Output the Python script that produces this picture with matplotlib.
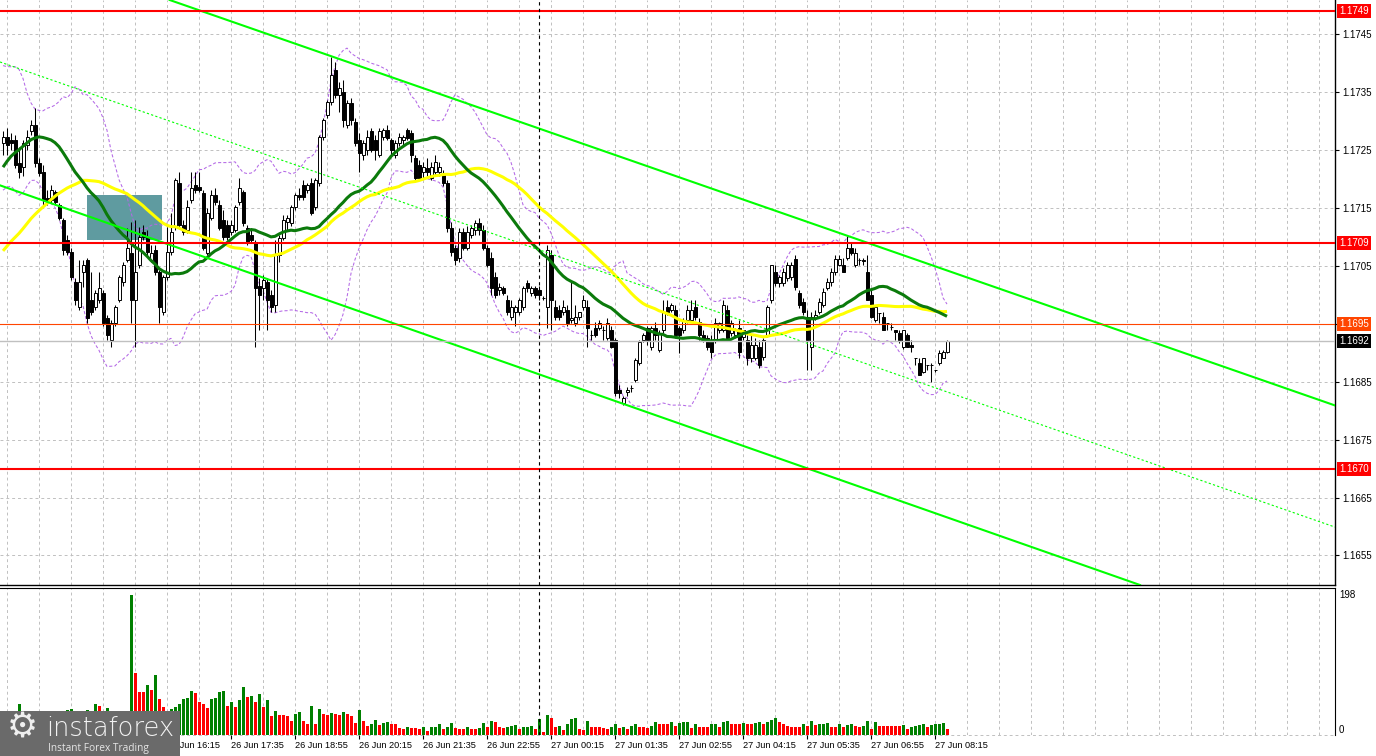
import matplotlib
matplotlib.use("Agg")
import matplotlib.pyplot as plt
import matplotlib.transforms as mtransforms
from matplotlib.patches import Rectangle
import numpy as np
import pandas as pd

W, H = 1376, 756

# EURUSD M5 bars, first visible bar 26 Jun 12:50
FIRST_BAR = "2025-06-26 12:50"

OPEN = [
    1.17262, 1.17273, 1.17267, 1.17267, 1.17228, 1.17221, 1.17258, 1.17282, 1.17293, 1.17228,
    1.17212, 1.17167, 1.17164, 1.17178, 1.17155, 1.17129, 1.17095, 1.17074, 1.17022, 1.16979,
    1.17040, 1.17060, 1.16991, 1.16979, 1.16991, 1.17003, 1.16960, 1.16922, 1.16951, 1.16991,
    1.17022, 1.17060, 1.17072, 1.16991, 1.17051, 1.17109, 1.17100, 1.17060, 1.17077, 1.17040,
    1.16971, 1.17031, 1.17074, 1.17117, 1.17193, 1.17120, 1.17112, 1.17164, 1.17189, 1.17186,
    1.17176, 1.17072, 1.17132, 1.17172, 1.17155, 1.17129, 1.17120, 1.17109, 1.17112, 1.17161,
    1.17178, 1.17115, 1.17103, 1.17092, 1.17016, 1.17011, 1.17022, 1.17000, 1.16982, 1.17068,
    1.17098, 1.17126, 1.17124, 1.17152, 1.17172, 1.17189, 1.17181, 1.17193, 1.17152, 1.17193,
    1.17273, 1.17310, 1.17333, 1.17388, 1.17345, 1.17351, 1.17293, 1.17331, 1.17298, 1.17267,
    1.17241, 1.17250, 1.17282, 1.17267, 1.17241, 1.17273, 1.17285, 1.17267, 1.17241, 1.17262,
    1.17267, 1.17285, 1.17280, 1.17236, 1.17224, 1.17212, 1.17219, 1.17201, 1.17212, 1.17212,
    1.17206, 1.17193, 1.17115, 1.17081, 1.17063, 1.17109, 1.17081, 1.17103, 1.17112, 1.17124,
    1.17112, 1.17081, 1.17063, 1.17031, 1.17008, 1.17011, 1.16991, 1.16962, 1.16971, 1.16971,
    1.16979, 1.17020, 1.17003, 1.17011, 1.17008, 1.16994, 1.16979, 1.17068, 1.16979, 1.16974,
    1.16971, 1.16974, 1.16956, 1.16951, 1.16962, 1.16979, 1.16979, 1.16930, 1.16942, 1.16942,
    1.16939, 1.16925, 1.16939, 1.16922, 1.16835, 1.16813, 1.16832, 1.16839, 1.16853, 1.16882,
    1.16922, 1.16942, 1.16910, 1.16942, 1.16905, 1.16939, 1.16979, 1.16974, 1.16974, 1.16942,
    1.16939, 1.16956, 1.16956, 1.16979, 1.16953, 1.16930, 1.16925, 1.16922, 1.16922, 1.16939,
    1.16939, 1.16974, 1.16934, 1.16930, 1.16942, 1.16927, 1.16922, 1.16891, 1.16891, 1.16910,
    1.16893, 1.16930, 1.16991, 1.17040, 1.17020, 1.17020, 1.17029, 1.17031, 1.17061, 1.17003,
    1.16988, 1.16962, 1.16910, 1.16960, 1.16971, 1.16982, 1.17011, 1.17022, 1.17040, 1.17051,
    1.17051, 1.17063, 1.17081, 1.17051, 1.17060, 1.17060, 1.17040, 1.17000, 1.16956, 1.16968,
    1.16962, 1.16951, 1.16944, 1.16939, 1.16934, 1.16910, 1.16930, 1.16913, 1.16891, 1.16882,
    1.16867, 1.16878, 1.16878, 1.16870, 1.16882, 1.16891, 1.16902,
]
HIGH = [
    1.17282, 1.17288, 1.17280, 1.17276, 1.17255, 1.17267, 1.17285, 1.17302, 1.17322, 1.17236,
    1.17224, 1.17181, 1.17189, 1.17181, 1.17159, 1.17132, 1.17103, 1.17081, 1.17029, 1.17060,
    1.17060, 1.17063, 1.17040, 1.17008, 1.17040, 1.17008, 1.16965, 1.16956, 1.16982, 1.17034,
    1.17057, 1.17115, 1.17126, 1.17129, 1.17117, 1.17120, 1.17112, 1.17086, 1.17086, 1.17043,
    1.17034, 1.17117, 1.17141, 1.17201, 1.17212, 1.17129, 1.17164, 1.17212, 1.17212, 1.17212,
    1.17181, 1.17150, 1.17181, 1.17184, 1.17164, 1.17146, 1.17129, 1.17129, 1.17155, 1.17201,
    1.17181, 1.17120, 1.17115, 1.17095, 1.17029, 1.17034, 1.17029, 1.17008, 1.17095, 1.17103,
    1.17138, 1.17138, 1.17155, 1.17176, 1.17184, 1.17198, 1.17193, 1.17201, 1.17201, 1.17276,
    1.17305, 1.17336, 1.17411, 1.17402, 1.17368, 1.17371, 1.17336, 1.17340, 1.17305, 1.17280,
    1.17267, 1.17285, 1.17288, 1.17276, 1.17288, 1.17288, 1.17293, 1.17271, 1.17267, 1.17280,
    1.17276, 1.17288, 1.17285, 1.17241, 1.17233, 1.17229, 1.17236, 1.17229, 1.17241, 1.17229,
    1.17215, 1.17198, 1.17126, 1.17086, 1.17115, 1.17115, 1.17119, 1.17120, 1.17129, 1.17132,
    1.17120, 1.17086, 1.17074, 1.17040, 1.17020, 1.17016, 1.17000, 1.16991, 1.16982, 1.16994,
    1.17016, 1.17025, 1.17016, 1.17016, 1.17016, 1.16998, 1.17086, 1.17077, 1.16991, 1.16982,
    1.16991, 1.16982, 1.17022, 1.16982, 1.16971, 1.17000, 1.16991, 1.16939, 1.16953, 1.16956,
    1.16947, 1.16960, 1.16947, 1.16925, 1.16844, 1.16826, 1.16840, 1.16844, 1.16891, 1.16922,
    1.16934, 1.16947, 1.16947, 1.16953, 1.16939, 1.16991, 1.16991, 1.16986, 1.16982, 1.16947,
    1.16960, 1.16982, 1.16991, 1.16991, 1.16960, 1.16939, 1.16930, 1.16930, 1.16960, 1.16953,
    1.16991, 1.16982, 1.16956, 1.16942, 1.16956, 1.16939, 1.16930, 1.16930, 1.16925, 1.16922,
    1.16925, 1.16982, 1.17051, 1.17051, 1.17034, 1.17046, 1.17057, 1.17057, 1.17068, 1.17008,
    1.16994, 1.16974, 1.16971, 1.16974, 1.16994, 1.17011, 1.17029, 1.17046, 1.17068, 1.17068,
    1.17063, 1.17101, 1.17091, 1.17081, 1.17063, 1.17063, 1.17068, 1.17008, 1.16982, 1.16968,
    1.16971, 1.16951, 1.16951, 1.16939, 1.16939, 1.16939, 1.16934, 1.16922, 1.16891, 1.16891,
    1.16891, 1.16878, 1.16882, 1.16870, 1.16905, 1.16905, 1.16922,
]
LOW = [
    1.17241, 1.17241, 1.17250, 1.17219, 1.17201, 1.17206, 1.17250, 1.17276, 1.17221, 1.17205,
    1.17155, 1.17155, 1.17159, 1.17155, 1.17129, 1.17068, 1.17068, 1.17025, 1.16982, 1.16974,
    1.17013, 1.16951, 1.16965, 1.16974, 1.16986, 1.16947, 1.16922, 1.16910, 1.16947, 1.16988,
    1.17016, 1.17057, 1.16951, 1.16910, 1.17046, 1.17095, 1.17068, 1.17057, 1.17034, 1.16951,
    1.16965, 1.17025, 1.17068, 1.17112, 1.17115, 1.17103, 1.17107, 1.17159, 1.17176, 1.17178,
    1.17077, 1.17068, 1.17129, 1.17155, 1.17112, 1.17095, 1.17095, 1.17103, 1.17109, 1.17155,
    1.17119, 1.17086, 1.17090, 1.16910, 1.16939, 1.16991, 1.16939, 1.16971, 1.16971, 1.17057,
    1.17095, 1.17112, 1.17119, 1.17146, 1.17164, 1.17164, 1.17176, 1.17138, 1.17146, 1.17188,
    1.17267, 1.17305, 1.17327, 1.17340, 1.17316, 1.17290, 1.17288, 1.17293, 1.17257, 1.17212,
    1.17233, 1.17241, 1.17247, 1.17233, 1.17238, 1.17267, 1.17267, 1.17241, 1.17236, 1.17257,
    1.17258, 1.17267, 1.17229, 1.17198, 1.17198, 1.17201, 1.17205, 1.17198, 1.17206, 1.17205,
    1.17188, 1.17109, 1.17067, 1.17051, 1.17057, 1.17077, 1.17077, 1.17098, 1.17103, 1.17103,
    1.17077, 1.17048, 1.17000, 1.16994, 1.17000, 1.17000, 1.16965, 1.16956, 1.16947, 1.16965,
    1.16974, 1.17005, 1.16998, 1.16994, 1.16991, 1.16991, 1.16942, 1.16939, 1.16956, 1.16956,
    1.16965, 1.16947, 1.16951, 1.16946, 1.16956, 1.16974, 1.16910, 1.16922, 1.16927, 1.16939,
    1.16922, 1.16922, 1.16908, 1.16826, 1.16821, 1.16809, 1.16826, 1.16832, 1.16850, 1.16878,
    1.16919, 1.16913, 1.16905, 1.16922, 1.16902, 1.16934, 1.16965, 1.16971, 1.16925, 1.16900,
    1.16934, 1.16951, 1.16953, 1.16956, 1.16922, 1.16919, 1.16905, 1.16891, 1.16917, 1.16934,
    1.16936, 1.16922, 1.16929, 1.16925, 1.16891, 1.16922, 1.16878, 1.16884, 1.16887, 1.16874,
    1.16887, 1.16927, 1.16986, 1.17016, 1.17013, 1.17016, 1.17024, 1.17025, 1.17008, 1.16977,
    1.16965, 1.16870, 1.16870, 1.16956, 1.16967, 1.16979, 1.17008, 1.17016, 1.17034, 1.17050,
    1.17040, 1.17060, 1.17068, 1.17048, 1.17051, 1.17051, 1.16991, 1.16960, 1.16953, 1.16951,
    1.16939, 1.16939, 1.16939, 1.16922, 1.16917, 1.16906, 1.16910, 1.16902, 1.16878, 1.16861,
    1.16865, 1.16870, 1.16850, 1.16867, 1.16878, 1.16891, 1.16900,
]
CLOSE = [
    1.17273, 1.17258, 1.17262, 1.17224, 1.17212, 1.17262, 1.17273, 1.17293, 1.17228, 1.17210,
    1.17164, 1.17161, 1.17181, 1.17161, 1.17132, 1.17077, 1.17074, 1.17031, 1.16991, 1.17022,
    1.17051, 1.16960, 1.16971, 1.17003, 1.17011, 1.16951, 1.16930, 1.16951, 1.16979, 1.17031,
    1.17051, 1.17081, 1.16991, 1.17040, 1.17100, 1.17100, 1.17074, 1.17072, 1.17040, 1.16979,
    1.17031, 1.17074, 1.17109, 1.17198, 1.17120, 1.17109, 1.17152, 1.17184, 1.17181, 1.17181,
    1.17081, 1.17141, 1.17172, 1.17161, 1.17115, 1.17100, 1.17100, 1.17120, 1.17152, 1.17184,
    1.17124, 1.17092, 1.17095, 1.17011, 1.17000, 1.17025, 1.16991, 1.16979, 1.17068, 1.17098,
    1.17129, 1.17132, 1.17152, 1.17172, 1.17169, 1.17169, 1.17189, 1.17141, 1.17198, 1.17273,
    1.17302, 1.17333, 1.17379, 1.17345, 1.17357, 1.17302, 1.17331, 1.17302, 1.17262, 1.17245,
    1.17262, 1.17273, 1.17250, 1.17250, 1.17282, 1.17285, 1.17271, 1.17250, 1.17262, 1.17273,
    1.17273, 1.17271, 1.17241, 1.17201, 1.17201, 1.17221, 1.17212, 1.17221, 1.17229, 1.17221,
    1.17193, 1.17115, 1.17074, 1.17060, 1.17109, 1.17081, 1.17109, 1.17115, 1.17124, 1.17112,
    1.17081, 1.17051, 1.17011, 1.17000, 1.17013, 1.17003, 1.16971, 1.16979, 1.16979, 1.16991,
    1.17011, 1.17011, 1.17011, 1.17000, 1.17000, 1.16994, 1.17077, 1.16991, 1.16962, 1.16962,
    1.16979, 1.16951, 1.16960, 1.16962, 1.16971, 1.16991, 1.16942, 1.16930, 1.16930, 1.16951,
    1.16939, 1.16951, 1.16910, 1.16830, 1.16830, 1.16821, 1.16835, 1.16839, 1.16887, 1.16919,
    1.16930, 1.16922, 1.16942, 1.16930, 1.16934, 1.16971, 1.16971, 1.16982, 1.16930, 1.16930,
    1.16956, 1.16974, 1.16974, 1.16962, 1.16930, 1.16922, 1.16910, 1.16902, 1.16951, 1.16951,
    1.16982, 1.16925, 1.16951, 1.16939, 1.16902, 1.16939, 1.16891, 1.16913, 1.16913, 1.16878,
    1.16922, 1.16979, 1.17051, 1.17020, 1.17031, 1.17040, 1.17051, 1.17051, 1.17013, 1.16982,
    1.16971, 1.16922, 1.16962, 1.16965, 1.16988, 1.17005, 1.17022, 1.17040, 1.17061, 1.17061,
    1.17040, 1.17081, 1.17072, 1.17072, 1.17060, 1.17058, 1.16991, 1.16962, 1.16979, 1.16968,
    1.16939, 1.16951, 1.16944, 1.16936, 1.16922, 1.16939, 1.16910, 1.16910, 1.16891, 1.16861,
    1.16891, 1.16878, 1.16878, 1.16870, 1.16900, 1.16902, 1.16920,
]
VOLUME = [
    22, 18, 25, 20, 44, 30, 22, 18, 28, 24,
    30, 26, 20, 24, 18, 26, 36, 37, 30, 25,
    22, 35, 28, 44, 41, 30, 38, 26, 22, 25,
    20, 28, 198, 88, 61, 61, 71, 64, 85, 51,
    40, 33, 37, 40, 44, 51, 52, 62, 59, 47,
    44, 38, 51, 52, 61, 62, 41, 47, 40, 49,
    68, 54, 55, 46, 58, 40, 49, 27, 34, 28,
    28, 27, 20, 30, 32, 20, 16, 41, 16, 37,
    30, 28, 31, 30, 28, 32, 30, 27, 17, 35,
    20, 13, 16, 21, 14, 17, 18, 16, 15, 10,
    9, 11, 10, 10, 9, 12, 6, 11, 12, 16,
    9, 12, 17, 10, 9, 9, 11, 9, 8, 10,
    17, 12, 20, 18, 12, 10, 12, 13, 14, 8,
    11, 12, 13, 8, 23, 4, 28, 24, 12, 13,
    7, 15, 23, 24, 8, 7, 20, 12, 11, 11,
    10, 9, 12, 16, 10, 12, 8, 13, 15, 12,
    12, 10, 13, 18, 16, 16, 15, 18, 13, 17,
    18, 19, 10, 16, 12, 12, 12, 15, 16, 12,
    19, 20, 16, 16, 16, 17, 15, 15, 17, 19,
    15, 19, 21, 24, 18, 15, 13, 12, 12, 12,
    15, 13, 20, 14, 15, 16, 17, 12, 12, 16,
    12, 14, 15, 13, 12, 13, 20, 8, 18, 13,
    13, 13, 13, 13, 13, 14, 8, 12, 13, 14,
    15, 12, 14, 15, 16, 17, 8,
]
# closes before the left edge (not drawn), only used to warm up the indicators
PRIOR_CLOSE = [
    1.16855, 1.16850, 1.16858, 1.16871, 1.16866, 1.16853, 1.16845, 1.16857, 1.16868, 1.16874,
    1.16861, 1.16849, 1.16856, 1.16866, 1.16872, 1.16860, 1.16851, 1.16858, 1.16847, 1.16852,
    1.16866, 1.16960, 1.17000, 1.17035, 1.17060, 1.17080, 1.17105, 1.17120, 1.17140, 1.17155,
    1.17195, 1.17220, 1.17250, 1.17300, 1.17340, 1.17380, 1.17400, 1.17370, 1.17330, 1.17290,
    1.17310, 1.17260, 1.17220, 1.17200, 1.17240, 1.17280, 1.17310, 1.17270, 1.17240, 1.17280,
]

PRICE_TICKS = [1.1655, 1.1665, 1.1675, 1.1685, 1.1695, 1.1705, 1.1715, 1.1725, 1.1735, 1.1745]
RED_LEVELS = [1.1749, 1.1709, 1.1670]
ORANGE_LEVEL = 1.1695
BID = 1.1692
MIDNIGHT_BAR = 134

# trend channel: (bar, price) anchor pairs
CH_UPPER = [(43.75, 1.17504), (333.0, 1.16809)]
CH_LOWER = [(-0.75, 1.17189), (284.25, 1.16499)]
CH_MID = [(-0.75, 1.17402), (333.0, 1.16599)]
# entry zone box: bar from/to, price low/high
ZONE = (21.0, 39.75, 1.17095, 1.17172)

plt.rcParams["font.family"] = ["Liberation Sans", "DejaVu Sans"]

n = len(CLOSE)
x = np.arange(n)
o, h, l, c = map(np.array, (OPEN, HIGH, LOW, CLOSE))
vol = np.array(VOLUME)
times = pd.date_range(FIRST_BAR, periods=n, freq="5min")

closes_all = pd.Series(PRIOR_CLOSE + CLOSE)
k = len(PRIOR_CLOSE)
ma30 = closes_all.rolling(30).mean().to_numpy()[k:]
ma50 = closes_all.rolling(50).mean().to_numpy()[k:]
mid = closes_all.rolling(20).mean()
sd = closes_all.rolling(20).std(ddof=0)
bb_up = (mid + 2 * sd).to_numpy()[k:]
bb_dn = (mid - 2 * sd).to_numpy()[k:]

fig = plt.figure(figsize=(W / 100, H / 100), dpi=100)
ax = fig.add_axes([0, 171 / H, 1335 / W, 585 / H])
axv = fig.add_axes([0, 21 / H, 1335 / W, 147 / H])

XLIM = (-0.75, 333.0)
grid_x = np.arange(1, 334, 8)
# time labels every 16 bars; the two leftmost sit under the logo, so skip them
label_x = np.arange(41, n, 16)
grid_kw = dict(color="#c0c0c0", linestyle=(0, (3, 3)), linewidth=0.7)
LABEL_SIZE = 7.0

# ---- price panel
ax.set_xlim(*XLIM)
ax.set_ylim(1.16499, 1.17509)
ax.set_xticks(grid_x)
ax.tick_params(axis="x", length=0, labelbottom=False)
ax.set_yticks(PRICE_TICKS)
ax.yaxis.tick_right()
# the 1.1695 slot is covered by the level box
ax.set_yticklabels(["" if t == ORANGE_LEVEL else f"{t:.4f}" for t in PRICE_TICKS])
ax.tick_params(axis="y", direction="out", length=3, width=0.8, pad=2, labelsize=LABEL_SIZE)
ax.grid(True, zorder=0, **grid_kw)
ax.set_axisbelow(True)
for side in ("top", "left"):
    ax.spines[side].set_visible(False)
ax.spines["right"].set_linewidth(1.0)
ax.spines["bottom"].set_linewidth(1.0)

ax.add_patch(Rectangle((ZONE[0], ZONE[2]), ZONE[1] - ZONE[0], ZONE[3] - ZONE[2],
                       facecolor="#5f9ba0", edgecolor="none", zorder=1))

ax.plot(x, bb_up, color="#b469e6", lw=0.75, ls=(0, (3, 2)), zorder=2)
ax.plot(x, bb_dn, color="#b469e6", lw=0.75, ls=(0, (3, 2)), zorder=2)

up = c >= o
body_lo = np.minimum(o, c)
body_h = np.maximum(np.abs(c - o), 0.000004)
ax.vlines(x, l, h, colors="black", lw=0.75, zorder=3)
ax.bar(x[up], body_h[up], bottom=body_lo[up], width=0.75, facecolor="white",
       edgecolor="black", lw=0.7, zorder=4)
ax.bar(x[~up], body_h[~up], bottom=body_lo[~up], width=0.75, facecolor="black",
       edgecolor="black", lw=0.7, zorder=4)

ax.plot(x, ma50, color="#ffff00", lw=2.2, zorder=5, solid_capstyle="butt")
ax.plot(x, ma30, color="#0b7a0b", lw=2.2, zorder=5, solid_capstyle="butt")

ax.axline(CH_UPPER[0], CH_UPPER[1], color="#00ff00", lw=1.5, zorder=6)
ax.axline(CH_LOWER[0], CH_LOWER[1], color="#00ff00", lw=1.5, zorder=6)
ax.axline(CH_MID[0], CH_MID[1], color="#00ff00", lw=0.8, ls=(0, (2, 2)), zorder=6)

for lv in RED_LEVELS:
    ax.axhline(lv, color="#ff0000", lw=1.5, zorder=6)
ax.axhline(ORANGE_LEVEL, color="#ff4500", lw=0.8, zorder=6)
ax.axhline(BID, color="#c0c0c0", lw=1.0, zorder=6)
ax.axvline(MIDNIGHT_BAR, color="black", lw=0.8, ls=(0, (3, 3)), zorder=6)

trans = mtransforms.blended_transform_factory(ax.transAxes, ax.transData)


def price_box(level, fc):
    ax.annotate(f"{level:.4f}", xy=(1, level), xycoords=trans, xytext=(4, 0),
                textcoords="offset pixels", ha="left", va="center", fontsize=LABEL_SIZE,
                color="white", annotation_clip=False, zorder=10,
                bbox=dict(boxstyle="square,pad=0.2", fc=fc, ec="none"))


for lv in RED_LEVELS:
    price_box(lv, "#ff0000")
price_box(ORANGE_LEVEL, "#ff4500")
price_box(BID, "#000000")

# ---- volume panel
axv.set_xlim(*XLIM)
axv.set_ylim(0, 207.9)
prev = np.r_[vol[0], vol[:-1]]
vcol = np.where(vol > prev, "#008000", "#ff0000")
axv.bar(x, vol, width=0.75, color=vcol, zorder=3)
axv.set_xticks(label_x)
axv.set_xticks([g for g in grid_x if g not in set(label_x)], minor=True)
axv.set_xticklabels([t.strftime("%d %b %H:%M") for t in times[label_x]])
plt.setp(axv.get_xticklabels(), ha="left")
axv.tick_params(axis="x", which="major", length=3, width=0.8, pad=1, labelsize=6.6)
axv.tick_params(axis="x", which="minor", length=0)
axv.grid(True, which="both", axis="x", zorder=0, **grid_kw)
axv.axhline(0, clip_on=False, zorder=1, **grid_kw)
axv.axvline(MIDNIGHT_BAR, color="black", lw=0.8, ls=(0, (3, 3)), zorder=4)
axv.set_yticks([])
for side in ("left", "bottom"):
    axv.spines[side].set_visible(False)
vtrans = mtransforms.blended_transform_factory(axv.transAxes, axv.transData)
axv.text(1.003, vol.max(), f"{vol.max()}", transform=vtrans, ha="left", va="center",
         fontsize=LABEL_SIZE)
axv.text(1.003, 0, "0", transform=vtrans, ha="left", va="bottom", fontsize=LABEL_SIZE)

# ---- logo
fig.patches.append(Rectangle((0, 0), 180 / W, 45 / H, transform=fig.transFigure,
                             facecolor="#6a6a6a", edgecolor="none", zorder=20))
fig.text(22 / W, (H - 728) / H, "\u2699", fontsize=25, color="#efefef", ha="center",
         va="center", family="DejaVu Sans", zorder=21)
fig.text(46 / W, (H - 736) / H, "instaforex", fontsize=18.5, color="#f2f2f2",
         family="DejaVu Sans", fontweight="light", va="baseline", zorder=21)
fig.text(48 / W, (H - 751) / H, "Instant Forex Trading", fontsize=7.3, color="#e6e6e6",
         family="Open Sans", va="baseline", zorder=21)

fig.savefig("out.png", dpi=100, facecolor="white")
